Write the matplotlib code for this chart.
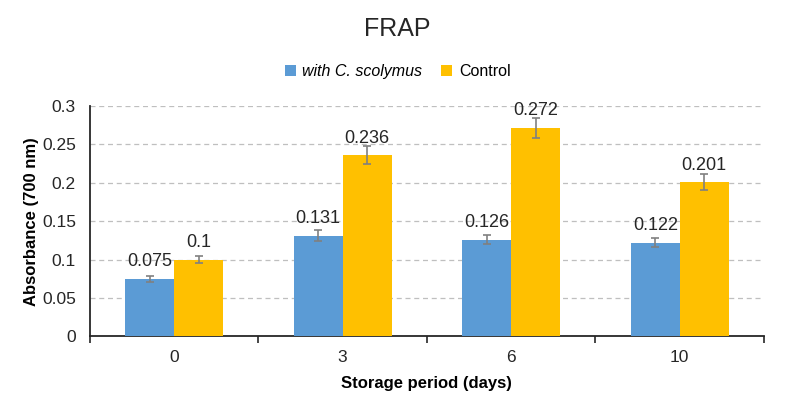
import matplotlib.pyplot as plt
import numpy as np

plt.rcParams['font.family'] = ['Liberation Sans', 'DejaVu Sans']

# data
days = ['0', '3', '6', '10']
scolymus = [0.075, 0.131, 0.126, 0.122]
control = [0.1, 0.236, 0.272, 0.201]
scolymus_err = [0.004, 0.007, 0.006, 0.006]
control_err = [0.005, 0.012, 0.013, 0.010]

blue = '#5B9BD5'
gold = '#FFC000'

fig = plt.figure(figsize=(7.95, 4.13), dpi=100)
ax = fig.add_axes([0.113, 0.186, 0.848, 0.557])

x = np.arange(len(days))
w = 0.29
err_kw = dict(ecolor='#808080', capsize=3, elinewidth=1.2, capthick=1.2)
ax.bar(x - w / 2, scolymus, w, yerr=scolymus_err, color=blue,
       label='with C. scolymus', error_kw=err_kw, zorder=3)
ax.bar(x + w / 2, control, w, yerr=control_err, color=gold,
       label='Control', error_kw=err_kw, zorder=3)

# value labels, fixed distance above the bar top
for xi, v in zip(x - w / 2, scolymus):
    ax.annotate(f'{v:g}', (xi, v), xytext=(0, 6), textcoords='offset points',
                ha='center', va='bottom', fontsize=13, color='#262626', zorder=5)
for xi, v in zip(x + w / 2, control):
    ax.annotate(f'{v:g}', (xi, v), xytext=(0, 6), textcoords='offset points',
                ha='center', va='bottom', fontsize=13, color='#262626', zorder=5)

ax.set_xlim(-0.5, len(days) - 0.5)
ax.set_ylim(0, 0.3)
ax.set_yticks([0, 0.05, 0.1, 0.15, 0.2, 0.25, 0.3])
ax.set_yticklabels(['0', '0.05', '0.1', '0.15', '0.2', '0.25', '0.3'])
ax.set_xticks(x)
ax.set_xticklabels(days)
ax.set_xticks(np.arange(len(days) + 1) - 0.5, minor=True)
ax.tick_params(axis='both', which='major', labelsize=12.5, colors='#262626', length=0)
ax.tick_params(axis='y', pad=10)
ax.tick_params(axis='x', which='major', pad=10)
ax.tick_params(axis='x', which='minor', length=5, direction='out', color='#262626', width=1.2)
ax.yaxis.grid(True, linestyle=(0, (4, 3)), color='#bfbfbf', linewidth=0.9, zorder=0)

for s in ['top', 'right']:
    ax.spines[s].set_visible(False)
ax.spines['left'].set_color('#262626')
ax.spines['bottom'].set_color('#262626')
ax.spines['left'].set_linewidth(1.3)
ax.spines['bottom'].set_linewidth(1.3)

ax.set_xlabel('Storage period (days)', fontsize=12, fontweight='bold', labelpad=8)
ax.set_ylabel('Absorbance (700 nm)', fontsize=12, fontweight='bold', labelpad=2)

fig.text(0.5, 0.93, 'FRAP', ha='center', va='center', fontsize=18, color='#262626')

leg = fig.legend(loc='center', bbox_to_anchor=(0.5, 0.826), ncol=2, frameon=False,
                 fontsize=11.5, handlelength=0.7, handleheight=0.7, columnspacing=1.2,
                 handletextpad=0.4)
leg.get_texts()[0].set_fontstyle('italic')

fig.savefig('out.png', dpi=100)
